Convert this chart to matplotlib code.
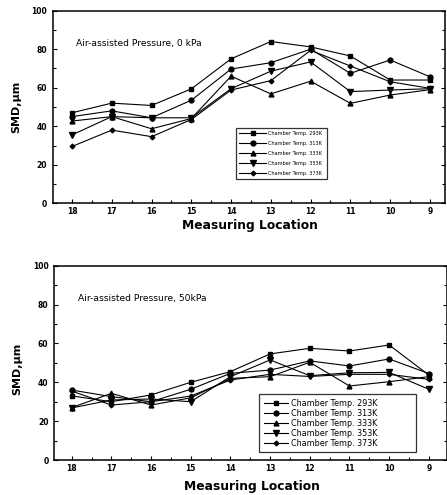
import numpy as np
import matplotlib
matplotlib.use("Agg")
import matplotlib.pyplot as plt
from matplotlib.ticker import MultipleLocator

# measuring locations (left to right)
locations = ["18", "17", "16", "15", "14", "13", "12", "11", "10", "9"]
temps = ["293K", "313K", "333K", "353K", "373K"]

# SMD (um), air-assisted pressure 0 kPa
smd_0kpa_293 = [47, 52, 50.8, 59.4, 75, 84, 81.2, 76.5, 64, 64]
smd_0kpa_313 = [45, 48, 44.4, 53.5, 69.7, 73, 80, 67.5, 74.4, 65.7]
smd_0kpa_333 = [42.7, 45, 38.7, 44, 66, 56.8, 63.4, 51.9, 56.2, 59]
smd_0kpa_353 = [35.5, 45, 44.4, 44.4, 59.5, 68.6, 73.4, 58, 58.8, 59.5]
smd_0kpa_373 = [29.5, 38, 34.6, 43.5, 58.8, 63.7, 79.4, 71.3, 63.1, 59.7]

# SMD (um), air-assisted pressure 50 kPa
smd_50kpa_293 = [33, 30, 33.5, 40, 45.5, 54.6, 57.5, 56.1, 59.2, 43.7]
smd_50kpa_313 = [36, 32.6, 30, 36.4, 44.6, 46.3, 51, 48.4, 52, 44.5]
smd_50kpa_333 = [27, 34.3, 28.3, 32, 42, 42.9, 50.3, 38.1, 40.3, 42.9]
smd_50kpa_353 = [26.8, 30.9, 31.4, 30, 42.9, 51.5, 43.4, 44.9, 45.1, 36.4]
smd_50kpa_373 = [35.5, 28.3, 30, 32.9, 41.2, 44.1, 43, 44.1, 44.1, 41.5]

markers = ["s", "o", "^", "v", "D"]
msizes = [3.5, 3.5, 3.5, 3.8, 2.4]


def draw_panel(ax, series, note, xlim, leg_box, leg_fs, leg_hl, leg_sp,
               xlab_y, ylab_y):
    x = np.arange(len(locations))
    for vals, t, m, ms in zip(series, temps, markers, msizes):
        ax.plot(x, vals, color="k", lw=0.8, marker=m, ms=ms,
                mfc="k", mec="k", label="Chamber Temp. " + t)

    ax.set_xlim(*xlim)
    ax.set_ylim(0, 100)
    ax.set_xticks(x)
    ax.set_xticklabels(locations)
    ax.xaxis.set_minor_locator(MultipleLocator(0.5))
    ax.yaxis.set_major_locator(MultipleLocator(20))
    ax.yaxis.set_minor_locator(MultipleLocator(10))
    ax.tick_params(which="both", direction="in", right=True, top=False,
                   labelsize=5.5, width=0.8)
    ax.tick_params(axis="x", pad=3)
    ax.tick_params(axis="y", pad=4)
    ax.tick_params(which="major", length=3)
    ax.tick_params(which="minor", length=2)
    for lbl in ax.get_xticklabels() + ax.get_yticklabels():
        lbl.set_fontweight("bold")
    for sp in ax.spines.values():
        sp.set_linewidth(1.1)

    ax.set_xlabel("Measuring Location", fontsize=8.8, fontweight="bold")
    ax.xaxis.set_label_coords(0.503, xlab_y)
    ax.set_ylabel("SMD,\u00b5m", fontsize=8, fontweight="bold")
    ax.yaxis.set_label_coords(-0.08, ylab_y)

    ax.text(0.06, 0.83, note, transform=ax.transAxes, fontsize=6.6,
            va="center", ha="left")

    leg = ax.legend(loc="upper left", bbox_to_anchor=leg_box, mode="expand",
                    borderaxespad=0, fontsize=leg_fs, handlelength=leg_hl,
                    fancybox=False, frameon=True, labelspacing=leg_sp,
                    borderpad=0.6, handletextpad=0.3)
    leg.get_frame().set_edgecolor("k")
    leg.get_frame().set_linewidth(0.9)


fig = plt.figure(figsize=(4.47, 4.95), dpi=100)
ax1 = fig.add_axes([0.1179, 0.5893, 0.8777, 0.3891])
ax2 = fig.add_axes([0.1208, 0.0707, 0.8785, 0.3925])

draw_panel(ax1,
           [smd_0kpa_293, smd_0kpa_313, smd_0kpa_333, smd_0kpa_353, smd_0kpa_373],
           "Air-assisted Pressure, 0 kPa", (-0.485, 9.38),
           (0.467, 0.105, 0.232, 0.286), 3.6, 5.5, 1.0, -0.082, 0.5)
draw_panel(ax2,
           [smd_50kpa_293, smd_50kpa_313, smd_50kpa_333, smd_50kpa_353, smd_50kpa_373],
           "Air-assisted Pressure, 50kPa", (-0.446, 9.45),
           (0.523, 0.041, 0.398, 0.299), 5.8, 3.0, 0.12, -0.103, 0.47)

fig.savefig("out.png", dpi=100)
